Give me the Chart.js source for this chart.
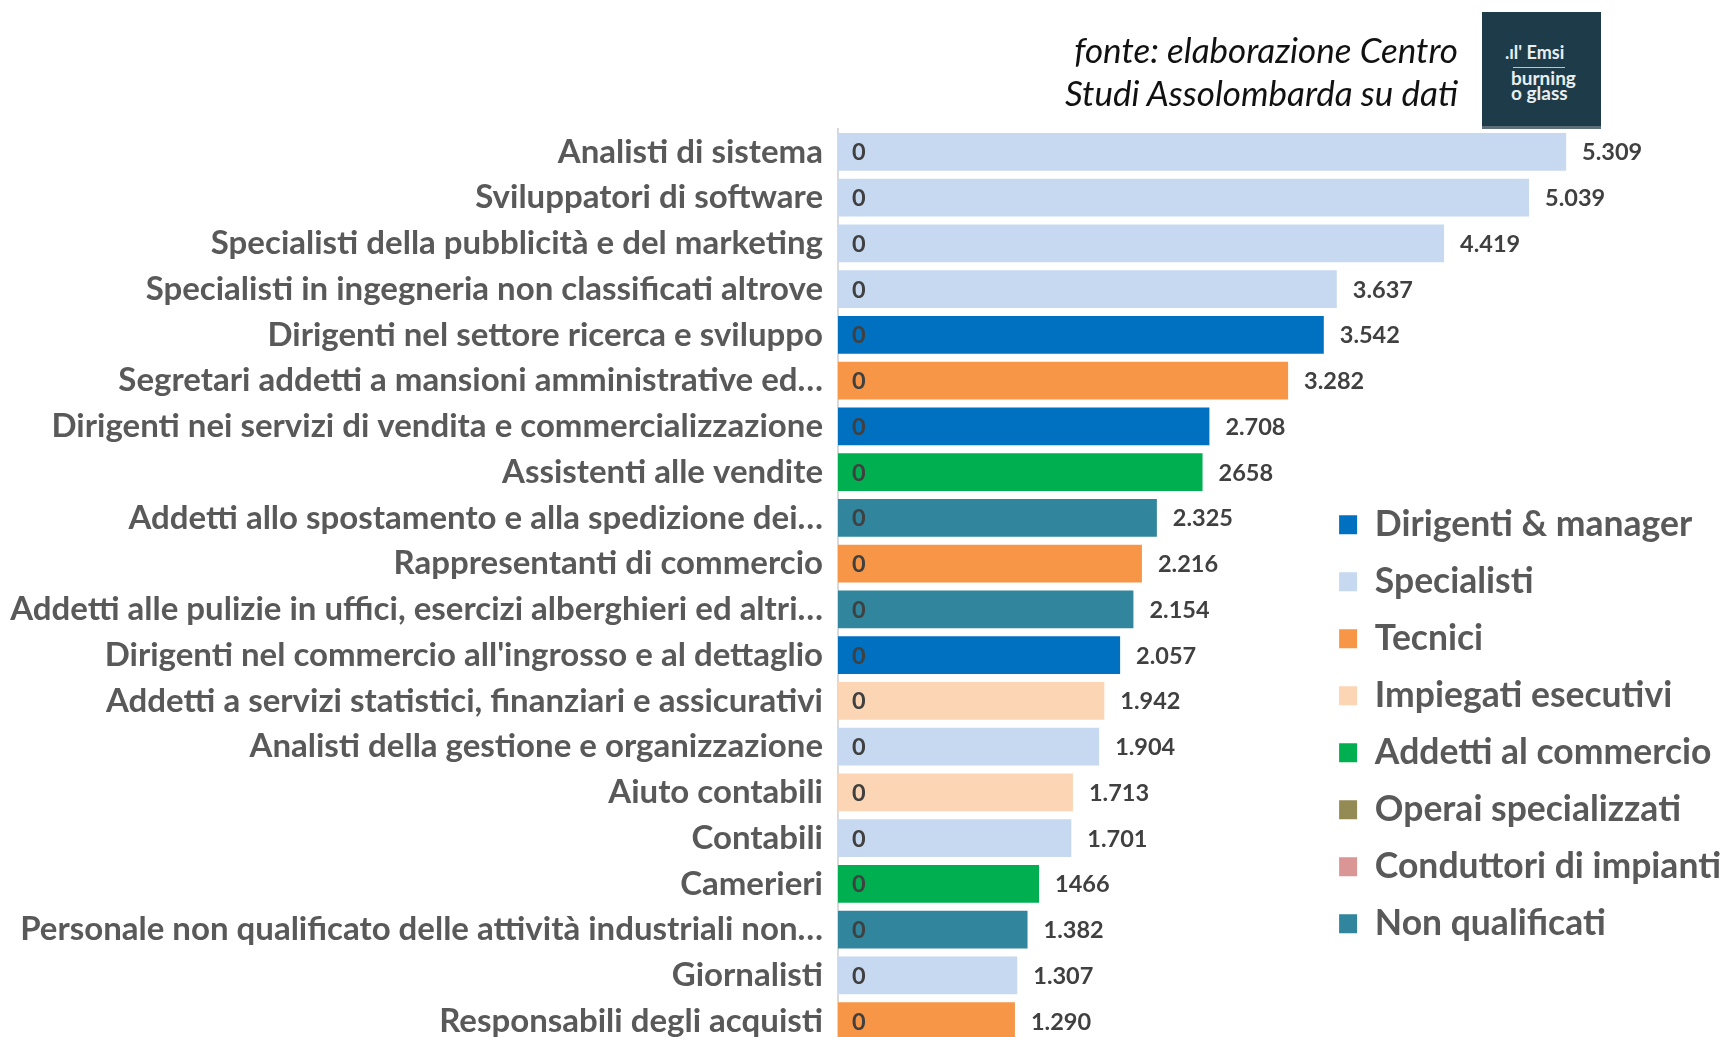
<!DOCTYPE html>
<html lang="it">
<head>
<meta charset="utf-8">
<title>Professioni più richieste</title>
<script src="https://cdn.jsdelivr.net/npm/chart.js@4.4.1/dist/chart.umd.min.js"></script>
<style>
  html, body { margin: 0; padding: 0; background: #fff; overflow: hidden; }
  #wrap { position: relative; width: 1729px; height: 1044px; }
  #source {
    position: absolute; right: 271px; top: 28px;
    font: italic 35px Lato, sans-serif; line-height: 43px;
    text-align: right; color: #111;
  }
  #logo {
    position: absolute; left: 1482px; top: 12px; width: 119px; height: 117px;
    background: #1e3b49; color: #e8eef0; font-family: Lato, sans-serif; font-weight: bold;
    box-sizing: border-box; border-bottom: 3px solid #5d7079;
  }
  #logo .emsi { position: absolute; left: 23px; top: 29px; font-size: 18px; }
  #logo .rule { position: absolute; left: 31px; top: 55px; width: 52px; height: 1px; background: #b9c6cc; }
  #logo .bg { position: absolute; left: 29px; top: 58px; font-size: 19px; line-height: 15px; }
</style>
</head>
<body>
<div id="wrap">
  <canvas id="chart" width="1729" height="1044"></canvas>
  <div id="source">fonte: elaborazione Centro<br>Studi Assolombarda su dati</div>
  <div id="logo">
    <div class="emsi">.ıl' Emsi</div>
    <div class="rule"></div>
    <div class="bg">burning<br>o glass</div>
  </div>
</div>
<script>
// Professioni più richieste - annunci online

const categories = [
    'Analisti di sistema',
    'Sviluppatori di software',
    'Specialisti della pubblicità e del marketing',
    'Specialisti in ingegneria non classificati altrove',
    'Dirigenti nel settore ricerca e sviluppo',
    'Segretari addetti a mansioni amministrative ed…',
    'Dirigenti nei servizi di vendita e commercializzazione',
    'Assistenti alle vendite',
    'Addetti allo spostamento e alla spedizione dei…',
    'Rappresentanti di commercio',
    'Addetti alle pulizie in uffici, esercizi alberghieri ed altri…',
    'Dirigenti nel commercio all\'ingrosso e al dettaglio',
    'Addetti a servizi statistici, finanziari e assicurativi',
    'Analisti della gestione e organizzazione',
    'Aiuto contabili',
    'Contabili',
    'Camerieri',
    'Personale non qualificato delle attività industriali non…',
    'Giornalisti',
    'Responsabili degli acquisti'
];

const values = [5309, 5039, 4419, 3637, 3542, 3282, 2708, 2658, 2325, 2216,
                2154, 2057, 1942, 1904, 1713, 1701, 1466, 1382, 1307, 1290];

// labels as printed on the original (two of them without separator)
const valueLabels = ['5.309', '5.039', '4.419', '3.637', '3.542', '3.282', '2.708', '2658', '2.325', '2.216',
                     '2.154', '2.057', '1.942', '1.904', '1.713', '1.701', '1466', '1.382', '1.307', '1.290'];

// hidden zero series of the original chart, shown as "0" at the bar start
const zeroSeries = [0, 0, 0, 0, 0, 0, 0, 0, 0, 0, 0, 0, 0, 0, 0, 0, 0, 0, 0, 0];

const barGroup = [
    'Specialisti', 'Specialisti', 'Specialisti', 'Specialisti', 'Dirigenti & manager',
    'Tecnici', 'Dirigenti & manager', 'Addetti al commercio', 'Non qualificati', 'Tecnici',
    'Non qualificati', 'Dirigenti & manager', 'Impiegati esecutivi', 'Specialisti', 'Impiegati esecutivi',
    'Specialisti', 'Addetti al commercio', 'Non qualificati', 'Specialisti', 'Tecnici'
];

const groups = ['Dirigenti & manager', 'Specialisti', 'Tecnici', 'Impiegati esecutivi',
                'Addetti al commercio', 'Operai specializzati', 'Conduttori di impianti', 'Non qualificati'];
const groupColors = ['#0070C0', '#C6D9F1', '#F79646', '#FCD5B5', '#00B050', '#948A54', '#DA9694', '#31859C'];

const FONT = 'Lato, "Open Sans", sans-serif';

// one dataset per group, so the legend lists every group (also the empty ones)
const datasets = groups.map((g, k) => ({
    label: g,
    data: values.map((v, i) => barGroup[i] === g ? v : null),
    backgroundColor: groupColors[k],
    borderWidth: 0,
    barPercentage: 0.82,
    categoryPercentage: 1,
    clip: false
}));

const barLabels = {
    id: 'barLabels',
    afterDatasetsDraw(chart) {
        const ctx = chart.ctx;
        ctx.save();
        ctx.font = 'bold 23.5px ' + FONT;
        ctx.fillStyle = '#404040';
        ctx.textBaseline = 'middle';
        ctx.textAlign = 'left';
        chart.data.datasets.forEach((ds, d) => {
            chart.getDatasetMeta(d).data.forEach((bar, i) => {
                if (ds.data[i] == null) return;
                ctx.fillText(valueLabels[i], bar.x + 16, bar.y + 1);
                ctx.fillText(String(zeroSeries[i]), bar.base + 14, bar.y + 1);
            });
        });
        ctx.restore();
    }
};

new Chart(document.getElementById('chart'), {
    type: 'bar',
    data: { labels: categories, datasets: datasets },
    options: {
        indexAxis: 'y',
        responsive: false,
        animation: false,
        layout: { padding: { top: 129, right: -2, bottom: 0, left: 0 } },
        scales: {
            x: { display: false, stacked: true, min: 0, max: 3497 },
            y: {
                stacked: true,
                grid: { display: false, drawTicks: false },
                border: { display: true, color: '#d9d9d9', width: 2 },
                ticks: {
                    autoSkip: false,
                    padding: 15,
                    color: '#595959',
                    font: { family: FONT, weight: 'bold', size: 33 }
                },
                afterFit(scale) {
                    scale.width = 838;
                    // bars run to the bottom edge, no room kept for the last label
                    scale.paddingTop = 0;
                    scale.paddingBottom = 0;
                }
            }
        },
        plugins: {
            tooltip: { enabled: false },
            legend: {
                position: 'right',
                align: 'start',
                title: { display: true, text: '', padding: { top: 342, bottom: 0 } },
                labels: {
                    boxWidth: 18,
                    boxHeight: 19,
                    padding: 21.5,
                    color: '#595959',
                    font: { family: FONT, weight: 'bold', size: 35.5 }
                }
            }
        }
    },
    plugins: [barLabels]
});
</script>
</body>
</html>
